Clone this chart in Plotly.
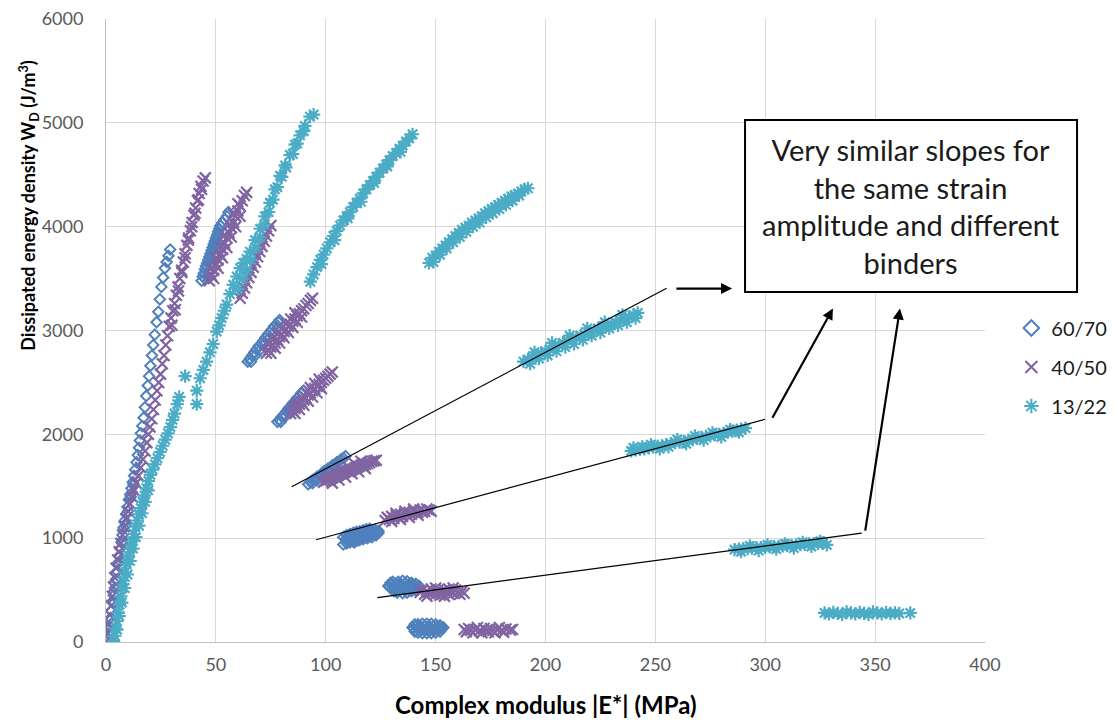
import plotly.graph_objects as go

FONT = "Lato"

# ---------------- data ----------------
# binder 60/70 (blue, open diamonds)
b6070_curve = [(0.5,20),(1,80),(1.5,150),(2,230),(2.5,300),(3,380),(3.5,450),(4,520),(4.5,600),(5,680),
               (5.5,760),(6,830),(6.5,900),(7,960),(7.5,1030),(8,1100),(8.6,1170),(9.2,1230),(9.8,1300),
               (10.4,1370),(11,1420),(11.6,1480),(12.2,1540),(12.8,1600),(13.3,1660),(13.9,1730),(14.5,1800),
               (15,1870),(15.4,1940),(15.9,2010),(16.5,2080),(17.1,2160),(17.7,2260),(18.3,2370),(19,2470),
               (19.6,2560),(20.2,2660),(20.9,2760),(21.5,2860),(22.2,2960),(23,3080),(23.8,3180),(24.5,3300),
               (25.2,3420),(26,3510),(26.8,3600),(27.6,3660),(28.4,3720),(29.2,3780),
               (2.6,180),(3.8,380),(5.1,600),(6.3,780),(7.5,950),(8.8,1120),(10,1260),(11.3,1400),(12.5,1520)]
b6070_B = [(43.5,3480),(44,3520),(44.5,3550),(45,3590),(45.5,3620),(46,3650),(46.5,3680),(47,3710),(47.5,3740),
           (48,3770),(48.5,3800),(49,3830),(49.5,3860),(50,3890),(50.5,3920),(51,3950),(51.5,3980),(52,4010),
           (53,4040),(54,4070),(55,4100),(55.7,4140),(45,3500),(46.5,3560),(48,3640),(49.5,3720),(51,3800),(52.5,3880)]
b6070_C = [(64.5,2700),(65.5,2730),(66.5,2760),(67.5,2790),(68.5,2820),(69.5,2850),(70.5,2870),(71.5,2900),
           (72.5,2930),(73.5,2960),(74.5,2980),(75.5,3010),(76.5,3040),(77.5,3060),(78.5,3080),(79,3100),
           (66,2700),(68,2760),(70,2810),(72,2870),(74,2920),(76,2970),(78,3020)]
b6070_D = [(78,2120),(79,2140),(80,2170),(81,2190),(82,2220),(83,2250),(84,2270),(85,2300),(86,2320),(87,2350),
           (88,2370),(89,2400),(90,2420),(79.5,2120),(81.5,2170),(83.5,2220),(85.5,2270),(87.5,2320)]
b6070_E = [(92,1520),(93,1540),(94,1560),(95,1570),(96,1590),(97,1600),(98,1620),(99,1640),(100,1650),(101,1670),
           (102,1680),(103,1700),(104,1710),(105,1730),(106,1740),(107,1760),(108,1770),(109,1790),
           (94,1530),(96,1560),(98,1590),(100,1620),(102,1650)]
b6070_F = [(109,990),(110,970),(111,1000),(112,980),(113,1010),(114,990),(115,1020),(116,1000),(117,1030),(118,1010),
           (119,1040),(120,1020),(121,1050),(122,1030),(123,1060),(124,1050),(111,1020),(113,960),(115,980),
           (117,990),(119,1000),(121,1010),(123,1030),(116,1050),(118,1060),(120,1070),(113,1040),
           (108,940),(108,1010),(109.5,950),(109.5,1030),(111,960),(111,1040),(112.5,970),(112.5,1050),
           (114,975),(114,1060),(115.5,985),(115.5,1065),(117,1000),(117,1075),(118.5,1010),(118.5,1085),
           (120,1040),(120,1090),(121.5,1060),(122.5,1080),(124,1070),(110,1000),(112,1005),(114,1020),
           (116,1030),(118,1040),(120,1050),(122,1055)]
b6070_G = [(129,530),(130,510),(130,550),(131,530),(132,500),(132,560),(133,530),(134,500),(134,560),(135,530),
           (136,500),(136,560),(137,530),(138,500),(138,560),(139,530),(140,510),(140,550),(141,530),(142,520),
           (128.5,540),(129.5,570),(130.5,580),(131,490),(132.5,475),(133,580),(135,470),(135,590),(137,475),
           (137,585),(139,490),(139,570),(141,500),(141,560),(142.5,540),(131.5,515),(133.5,545),(135.5,515),
           (137.5,545),(139.5,515),(134,530),(136,530),(138,530),(140,530)]
b6070_H = [(140,130),(141,110),(141,150),(142,130),(143,110),(143,150),(144,130),(145,110),(145,150),(146,130),
           (147,110),(147,150),(148,130),(149,110),(149,150),(150,130),(151,115),(151,145),(152,130),(153,130),
           (139.5,140),(140.5,100),(140.5,170),(142,90),(142,170),(144,85),(144,175),(146,85),(146,175),
           (148,85),(148,175),(150,90),(150,170),(152,100),(152,160),(153.5,140),(142.5,140),(144.5,120),
           (146.5,140),(148.5,120),(150.5,140)]

# binder 40/50 (purple, x marks)
b4050_curve = [(0.3,10),(0.8,90),(1.2,170),(1.8,260),(2.3,350),(2.9,440),(3.4,530),(4,620),(4.6,710),(5.3,790),
               (6,870),(6.8,950),(7.5,1030),(8.3,1110),(9.1,1190),(10,1260),(10.9,1330),(11.8,1400),(12.7,1460),
               (13.7,1530),(14.7,1600),(15.8,1680),(16.8,1760),(17.8,1840),(18.6,1920),(19.3,2000),(20,2070),
               (20.8,2150),(21.6,2240),(22.4,2330),(23.2,2420),(24,2500),(24.8,2580),(25.6,2680),(26.4,2760),
               (27.2,2860),(28,2950),(28.8,3040),(29.6,3120),(30.4,3190),(31.2,3260),(32,3340),(32.8,3420),
               (33.6,3500),(34.4,3580),(35.2,3660),(36,3740),(36.8,3820),(37.6,3890),(38.4,3960),(39.2,4040),
               (40,4110),(40.8,4180),(41.6,4250),(42.4,4320),(43.2,4390),(44.2,4440),(45.2,4470),
               (30,3050),(31.5,3200),(33,3380),(34.5,3560),(36,3700),(37.5,3870),(39,4000),(40.5,4130),
               (42,4260),(43.5,4360)]
b4050_B = [(47,3480),(48,3530),(49,3580),(50,3630),(51,3680),(52,3730),(53,3780),(54,3840),(55,3890),(56,3940),
           (57,3990),(58,4040),(59,4100),(60,4150),(61,4200),(62,4250),(63,4300),(64,4330),(49,3500),(51,3600),
           (53,3700),(55,3800),(57,3900),(59,4000),(61,4100),(48,3600),(50,3700),(52,3800),(54,3920),(56,4020),
           (58,4120),(60,4220)]
b4050_B2 = [(61,3310),(62,3360),(63,3410),(64,3460),(65,3510),(66,3560),(67,3610),(68,3660),(69,3710),(70,3760),
            (71,3810),(72,3860),(73,3910),(74,3960),(75,4010)]
b4050_C = [(73,2780),(74,2810),(75,2840),(76,2860),(77,2880),(78,2910),(79,2940),(80,2960),(81,2990),(82,3010),
           (83,3040),(84,3060),(85,3090),(86,3110),(87,3140),(88,3160),(89,3190),(90,3210),(91,3240),(92,3260),
           (93,3290),(94,3310),(75,2780),(77,2830),(79,2880),(81,2930),(83,2980),(85,3030),(87,3080),(89,3130),
           (74,2870),(76,2920),(78,2970),(80,3020),(82,3070),(84,3110),(86,3170)]
b4050_D = [(84,2200),(85,2230),(86,2250),(87,2270),(88,2290),(89,2310),(90,2330),(91,2350),(92,2380),(93,2400),
           (94,2420),(95,2440),(96,2460),(97,2480),(98,2500),(99,2520),(100,2540),(101,2560),(102,2580),(103,2600),
           (86,2200),(88,2240),(90,2280),(92,2320),(94,2360),(96,2400),(98,2440),(87,2300),(89,2350),(91,2400),
           (93,2450),(95,2490),(97,2530)]
b4050_E = [(99,1540),(100,1550),(101,1560),(102,1570),(103,1580),(104,1590),(105,1600),(106,1610),(107,1620),
           (108,1630),(109,1640),(110,1650),(111,1655),(112,1660),(113,1670),(114,1680),(115,1690),(116,1700),
           (117,1705),(118,1710),(119,1720),(120,1730),(121,1740),(122,1745),(123,1750),(101,1600),(104,1630),
           (107,1660),(110,1690),(113,1720),(116,1740),(103,1530),(106,1560),(109,1590),(112,1620),(115,1640),
           (118,1670)]
b4050_F = [(127,1170),(128,1200),(129,1180),(130,1210),(131,1190),(132,1220),(133,1200),(134,1230),(135,1210),
           (136,1240),(137,1220),(138,1250),(139,1230),(140,1260),(141,1240),(142,1250),(143,1270),(144,1250),
           (145,1260),(146,1280),(147,1270),(148,1260),(130,1160),(134,1180),(138,1200),(142,1220),(136,1260),
           (140,1280),(132,1240)]
b4050_G = [(143,480),(144,500),(145,460),(146,490),(147,470),(148,510),(149,480),(150,460),(151,500),(152,480),
           (153,460),(154,500),(155,480),(156,460),(157,490),(158,470),(159,500),(160,480),(161,460),(162,490),
           (163,470),(146,440),(150,520),(154,440),(158,520),(152,450),(156,510)]
b4050_H = [(163,120),(164,100),(165,130),(166,110),(167,90),(168,120),(169,140),(170,110),(171,90),(172,130),
           (173,110),(174,100),(175,130),(176,110),(177,90),(178,120),(179,140),(180,110),(181,95),(182,125),
           (184,115),(185,120)]

# binder 13/22 (cyan, asterisks)
b1322_curve = [(3.5,10),(4,60),(4.5,130),(5,200),(5.6,280),(6.2,360),(6.8,440),(7.4,520),(8,590),(8.7,670),
               (9.4,750),(10.2,830),(11,900),(11.8,970),(12.6,1040),(13.4,1110),(14.2,1170),(15,1230),(15.8,1290),
               (16.6,1350),(17.5,1410),(18.4,1480),(19.3,1550),(20.2,1610),(21.2,1660),(22.3,1710),(23.4,1770),
               (24.6,1830),(25.8,1890),(27,1950),(28.2,2010),(29.3,2070),(30.3,2140),(31.2,2200),(32.4,2290),
               (33.3,2360),(36,2560),
               (5,120),(6,250),(7.2,380),(8.5,520),(9.8,650),(11,780),(12.3,900),(13.6,1010),(15,1120),
               (16.4,1240),(17.8,1350),(19.2,1460),
               (41.3,2290),(41.3,2420),(42.8,2540),(44.3,2620),(45.8,2700),(47.3,2790),(48.8,2870),(50.4,2990),
               (51.5,3050),(52.6,3120),(53.8,3190),(54.9,3250),(56.4,3350),(57.9,3440),(59.5,3520),(61,3600),
               (62.5,3650),(64,3690),(65.5,3760),(67.8,3870),(70.1,3980),(72.3,4100),(74.6,4230),(76.9,4360),
               (79.2,4490),(81.5,4590),(83.7,4690),(86,4790),(88.3,4880),(90.5,4970),(92.8,5060),(94.5,5080),
               (60,3400),(62,3500),(64,3580),(66,3680),(68,3800),(70,3900),(72,4020),(74,4140),(76,4260),
               (78,4380),(80,4480),(82,4570),(85,4700),(87,4800),(90,4920)]
b1322_B = [(93,3470),(94.5,3540),(96,3610),(97.5,3680),(99,3730),(100.5,3790),(102,3850),(103.5,3910),(105,3960),
           (106.5,4010),(108,4060),(109.5,4100),(111,4140),(112.5,4190),(114,4230),(115.5,4270),(117,4320),
           (118.5,4360),(120,4400),(121.5,4440),(123,4480),(124.5,4520),(126,4560),(127.5,4600),(129,4640),
           (130.5,4680),(132,4710),(133.5,4750),(135,4780),(136.5,4820),(138,4850),(139.5,4890),
           (98,3640),(104,3870),(110,4080),(116,4240),(122,4420),(128,4580),(134,4720)]
b1322_C = [(147,3650),(148.5,3700),(150,3720),(151.5,3760),(153,3790),(154.5,3820),(156,3850),(157.5,3880),
           (159,3910),(160.5,3940),(162,3970),(163.5,3990),(165,4010),(166.5,4040),(168,4060),(169.5,4080),
           (171,4100),(172.5,4130),(174,4150),(175.5,4170),(177,4190),(178.5,4210),(180,4230),(181.5,4250),
           (183,4270),(184.5,4290),(186,4300),(187.5,4320),(189,4340),(190.5,4360),(192,4370),
           (149,3660),(152,3730),(155,3790),(158,3850),(161,3900),(164,3950),(167,4000),(170,4040),(173,4090),
           (176,4130),(179,4170),(182,4210),(185,4250),(188,4300)]
b1322_D = [(190,2700),(192,2720),(194,2740),(196,2760),(198,2780),(200,2800),(202,2820),(204,2840),(206,2860),
           (208,2880),(210,2900),(212,2910),(214,2930),(216,2950),(218,2960),(220,2980),(222,3000),(224,3020),
           (226,3030),(228,3050),(230,3060),(232,3080),(234,3100),(236,3110),(238,3130),(240,3150),(242,3170),
           (193,2680),(197,2730),(201,2760),(205,2800),(209,2840),(213,2870),(217,2910),(221,2950),(225,2980),
           (229,3020),(233,3050),(237,3080),(241,3120),(195,2790),(203,2880),(211,2950),(219,3020),(227,3080),
           (235,3150)]
b1322_E = [(239,1840),(241,1850),(243,1855),(245,1860),(247,1870),(249,1880),(251,1885),(253,1890),(255,1900),
           (257,1910),(259,1920),(261,1925),(263,1930),(265,1945),(267,1950),(269,1960),(271,1970),(273,1980),
           (275,1985),(277,1995),(279,2000),(281,2010),(283,2020),(285,2030),(287,2040),(289,2050),(291,2060),
           (240,1870),(244,1880),(248,1900),(252,1860),(256,1880),(260,1950),(264,1910),(268,1985),(272,1945),
           (276,2015),(280,1975),(284,2045),(288,2020)]
b1322_F = [(286,890),(288,895),(290,900),(292,900),(294,905),(296,908),(298,910),(300,912),(302,915),(304,918),
           (306,920),(308,925),(310,928),(312,930),(314,935),(316,938),(318,940),(320,945),(322,948),(324,950),
           (326,955),(289,870),(293,925),(297,880),(301,935),(305,895),(309,945),(313,905),(317,960),(321,920),
           (325,970),(328,935)]
b1322_G = [(327,280),(329,270),(331,285),(333,275),(335,265),(337,290),(339,280),(341,270),(343,285),(345,275),
           (347,265),(349,290),(351,280),(353,270),(355,285),(357,275),(359,280),(361,275),(366,280)]

series = [
    ("60/70", [b6070_curve, b6070_B, b6070_C, b6070_D, b6070_E, b6070_F, b6070_G, b6070_H],
     "#4F81BD", "diamond-open", 8, 2.0),
    ("40/50", [b4050_curve, b4050_B, b4050_B2, b4050_C, b4050_D, b4050_E, b4050_F, b4050_G, b4050_H],
     "#8064A2", "x-thin", 11, 2.2),
    ("13/22", [b1322_curve, b1322_B, b1322_C, b1322_D, b1322_E, b1322_F, b1322_G],
     "#4BACC6", "asterisk", 11, 2.2),
]

# annotation trend lines: (x0, y0, x1, y1) in data units
trend_lines = [(84.5, 1496, 255.1, 3407), (95.6, 985, 299.9, 2145), (123.5, 428, 343.9, 1048)]
# arrows: (tail_x, tail_y, head_x, head_y) in data units
arrows = [(258.9, 3404, 284.9, 3404), (302.9, 2145, 330.8, 3212), (345.4, 1058, 361.3, 3212)]
box_text = "Very similar slopes for<br>the same strain<br>amplitude and different<br>binders"

fig = go.Figure()
for name, clusters, color, sym, size, lw in series:
    pts = [p for c in clusters for p in c]
    fig.add_trace(go.Scatter(
        x=[p[0] for p in pts], y=[p[1] for p in pts], mode="markers", name=name,
        legendgroup=name,
        marker=dict(symbol=sym, size=size, color=color, line=dict(color=color, width=lw)),
    ))

for x0, y0, x1, y1 in trend_lines:
    fig.add_shape(type="line", x0=x0, y0=y0, x1=x1, y1=y1, xref="x", yref="y",
                  line=dict(color="black", width=1.2), layer="above")

annotations = []
for tx, ty, hx, hy in arrows:
    annotations.append(dict(x=hx, y=hy, ax=tx, ay=ty, xref="x", yref="y", axref="x", ayref="y",
                            showarrow=True, arrowhead=2, arrowsize=1, arrowwidth=2.2,
                            arrowcolor="black", text=""))

# text box
fig.add_shape(type="rect", xref="paper", yref="paper", x0=0.727, x1=1.1047, y0=0.5618, y1=0.8379,
              line=dict(color="black", width=2), fillcolor="white", layer="above")
annotations.append(dict(x=0.9158, y=0.6998, xref="paper", yref="paper", text=box_text, showarrow=False,
                        xanchor="center", yanchor="middle", align="center",
                        font=dict(family=FONT, size=29, color="#1a1a1a")))

# axis titles
annotations.append(dict(x=0.5, y=-0.1011, xref="paper", yref="paper",
                        text="<b>Complex modulus |E*| (MPa)</b>", showarrow=False,
                        xanchor="center", yanchor="middle", font=dict(family=FONT, size=24, color="black")))
annotations.append(dict(x=-0.088, y=0.7014, xref="paper", yref="paper",
                        text="<b>Dissipated energy density W<sub>D</sub> (J/m<sup>3</sup>)</b>",
                        showarrow=False, textangle=-90, xanchor="center", yanchor="middle",
                        font=dict(family=FONT, size=18, color="black")))

# page body has an 8px margin, so the figure is 8px smaller than the window
fig.update_layout(
    width=1110, height=712,
    margin=dict(l=98, r=133, t=11, b=78, autoexpand=False),
    paper_bgcolor="white", plot_bgcolor="white",
    font=dict(family=FONT, size=18, color="#595959"),
    showlegend=True,
    legend=dict(x=1.03, y=0.4414, xanchor="left", yanchor="middle", traceorder="grouped",
                tracegroupgap=10, font=dict(family=FONT, size=20, color="#1a1a1a"),
                bgcolor="rgba(0,0,0,0)", itemsizing="constant"),
    annotations=annotations,
)
fig.update_xaxes(range=[0, 400], dtick=50, showgrid=True, gridcolor="#d9d9d9", gridwidth=1,
                 showline=True, linecolor="#bfbfbf", linewidth=1, zeroline=False, automargin=False,
                 ticklabeloverflow="allow",
                 ticks="", ticklabelstandoff=6, tickfont=dict(family=FONT, size=18, color="#595959"))
fig.update_yaxes(range=[0, 6000], dtick=1000, showgrid=True, gridcolor="#d9d9d9", gridwidth=1,
                 showline=True, linecolor="#bfbfbf", linewidth=1, zeroline=False, automargin=False,
                 ticklabeloverflow="allow",
                 ticks="", ticklabelstandoff=18, tickfont=dict(family=FONT, size=18, color="#595959"))

fig.write_html("out.html")
